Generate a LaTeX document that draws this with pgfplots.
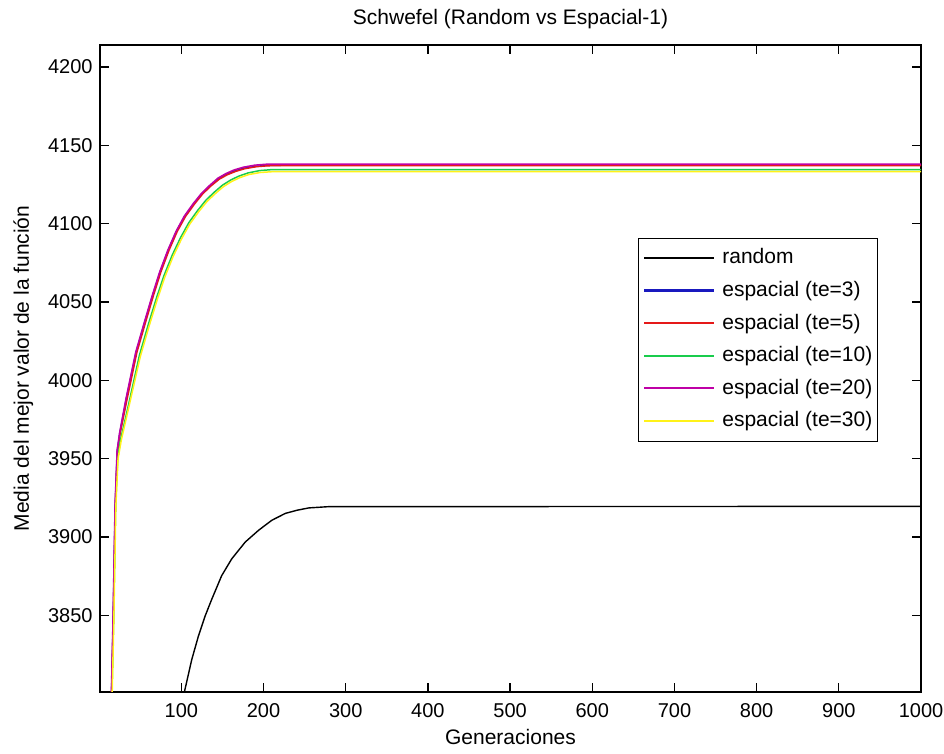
\documentclass[border=0pt]{standalone}
\usepackage{fontspec}
\setmainfont{Liberation Sans}
\usepackage{pgfplots}
\pgfplotsset{compat=1.18}
\definecolor{mblue}{rgb}{0.1,0.1,0.75}
\definecolor{mred}{rgb}{0.9,0.1,0.1}
\definecolor{mgreen}{rgb}{0.1,0.8,0.3}
\definecolor{mmag}{rgb}{0.75,0.0,0.65}
\definecolor{myel}{rgb}{1.0,0.95,0.1}
\begin{document}
\begin{tikzpicture}
\begin{axis}[
  scale only axis,
  width=410.5pt, height=323.5pt,
  xmin=1, xmax=1000, ymin=3801, ymax=4214,
  xtick={100,200,...,1000},
  ytick={3850,3900,...,4200},
  tick align=inside,
  major tick length=4.5pt,
  axis line style={line width=0.6pt},
  every tick/.style={black, line width=0.6pt},
  tick label style={font=\fontsize{10}{12}\selectfont},
  /pgf/number format/assume math mode=true,
  /pgf/number format/.cd, 1000 sep={}, /pgfplots/.cd,
  xticklabel style={anchor=base, yshift=-12.6pt},
  yticklabel style={anchor=east, xshift=-0.2pt},
  title={Schwefel (Random vs Espacial-1)},
  title style={at={(0.5,1)}, anchor=base, yshift=4.2pt, font=\fontsize{10.5}{12}\selectfont},
  xlabel={Generaciones},
  xlabel style={at={(axis description cs:0.5,0)}, anchor=base, yshift=-26.5pt, font=\fontsize{10.5}{12}\selectfont},
  ylabel={Media del mejor valor de la función},
  ylabel style={at={(axis description cs:-0.0865,0.5)}, anchor=base, font=\fontsize{10.5}{12}\selectfont},
  clip=true,
  legend cell align=left,
  legend image code/.code={\draw[#1, line width=1.1pt] (0pt,0.25pt) -- (35pt,0.25pt);},
  legend style={at={(0.655,0.702)}, anchor=north west,
    inner xsep=2.5pt, inner ysep=2pt,
    font=\fontsize{10.5}{12}\selectfont,
    nodes={inner xsep=0pt, inner ysep=3.4pt, text height=7.5pt, text depth=2pt},
    /tikz/every odd column/.style={column sep=3.5pt},
    /tikz/every even column/.style={column sep=5pt}},
]
\addplot[black, line width=0.7pt] coordinates {
(60,3700) (102.4,3798) (112.6,3821.6) (120.7,3836.6) (128.9,3849.5) (137,3860.2) (149,3875.2)
(161.3,3886) (177.7,3896.7) (193.9,3904.2) (210,3910.6) (226.5,3915) (240.6,3917)
(255,3918.5) (279,3919.3) (1000,3919.5)};
\addlegendentry{random}
\addplot[mblue, line width=0.75pt] coordinates {
(10,3600) (15,3800) (17,3846) (19.5,3920) (22,3955) (25,3966) (33,3988) (45,4018) (56,4038)
(65,4054) (74,4069) (84,4083) (94,4095) (104,4104.5) (115,4112.5) (125,4119) (135,4124)
(145,4128.5) (155,4131.5) (165,4133.6) (176,4135.3) (190,4136.5) (204,4137.1) (230,4137.3) (1000,4137.3)};
\addlegendentry{espacial (te=3)}
\addplot[mred, line width=0.75pt] coordinates {
(10,3600) (15.2,3800) (17.2,3846) (19.7,3920) (22.3,3955) (25.5,3966) (34,3988) (46,4018) (57,4038)
(66,4054) (75,4069) (85,4083) (95,4095) (105,4104.5) (116,4112.5) (126,4119) (136,4124)
(146,4128.3) (156,4131.2) (166,4133.3) (177,4135) (191,4136.3) (205,4136.9) (230,4137) (1000,4137)};
\addlegendentry{espacial (te=5)}
\addplot[mgreen, line width=0.75pt] coordinates {
(10,3600) (15.5,3800) (17.5,3846) (20,3920) (22.5,3950) (26,3962) (36,3985) (49,4016) (60,4036)
(70,4053) (79,4067) (89,4080) (99,4091) (109,4100.5) (120,4108.5) (130,4115) (140,4120)
(150,4124.5) (160,4127.8) (170,4130.3) (181,4132.3) (195,4133.8) (209,4134.4) (235,4134.5) (1000,4134.5)};
\addlegendentry{espacial (te=10)}
\addplot[mmag, line width=0.75pt] coordinates {
(10,3600) (14.8,3800) (16.8,3846) (19.3,3920) (21.8,3955) (24.7,3966) (32.5,3988) (44.5,4018) (55.5,4038)
(64.5,4054) (73.5,4069) (83.5,4083) (93.5,4095) (103.5,4104.7) (114.5,4112.8) (124.5,4119.3) (134.5,4124.4)
(144.5,4129) (154.5,4132) (164.5,4134.3) (175.5,4136) (189.5,4137.3) (203.5,4137.9) (230,4138) (1000,4138)};
\addlegendentry{espacial (te=20)}
\addplot[myel, line width=0.75pt] coordinates {
(10,3600) (15.8,3800) (17.8,3846) (20.3,3920) (23,3950) (27,3962) (37,3985) (50,4015) (61,4035)
(71,4052) (80,4066) (90,4079) (100,4090) (110,4099.5) (121,4107.5) (131,4114) (141,4119)
(151,4123.5) (161,4126.8) (171,4129.3) (182,4131.3) (196,4132.6) (210,4133.1) (235,4133.2) (1000,4133.2)};
\addlegendentry{espacial (te=30)}
\end{axis}
\pgfresetboundingbox
\path ([xshift=-50pt,yshift=-30.5pt]current axis.south west) rectangle ([xshift=11.5pt,yshift=22.5pt]current axis.north east);
\end{tikzpicture}
\end{document}
